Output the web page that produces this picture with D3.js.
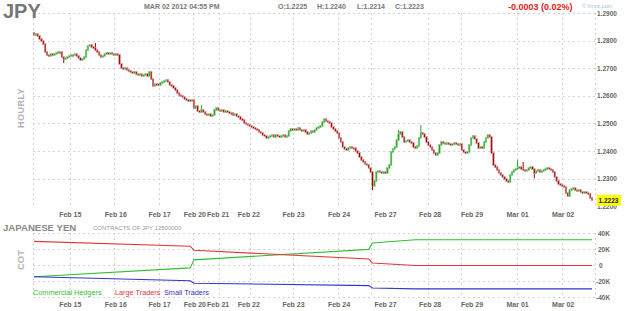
<!DOCTYPE html>
<meta charset="utf-8">
<style>
body { margin: 0; background: #fff; }
svg text { font-family: "Liberation Sans", Arial, sans-serif; }
.grid line { stroke: #d2d2d2; stroke-dasharray: 2,3; shape-rendering: crispEdges; }
.xlab { font-size: 7px; font-weight: bold; fill: #666; text-anchor: middle; }
.ylab { font-size: 6.5px; font-weight: bold; fill: #666; }
.hdr { font-size: 7px; font-weight: bold; fill: #777; }
</style>
<body>
<svg width="625" height="311"></svg>
<script src="https://cdn.jsdelivr.net/npm/d3@7"></script>
<script>

// day labels and where they sit, in hourly candle index
var dayLabels = ["Feb 15","Feb 16","Feb 17","Feb 20","Feb 21","Feb 22","Feb 23","Feb 24","Feb 27","Feb 28","Feb 29","Mar 01","Mar 02"];
var labelIdx  = [19.5, 44, 67.5, 86.5, 99, 115.5, 139.5, 164, 189, 213, 235.5, 260, 284.5];
var gridIdx   = [19.5, 43.5, 67.5, 85.5, 99.5, 116.5, 139.5, 163.5, 181.5, 212, 230, 260, 284];

// hourly closes (open = previous close)
var firstOpen = 1.2830;
var closes = [
  1.2822,1.2825,1.2818,1.2807,1.2800,1.2789,1.2760,1.2749,1.2746,1.2753,
  1.2749,1.2753,1.2757,1.2760,1.2760,1.2742,1.2735,1.2738,1.2742,1.2746,
  1.2749,1.2749,1.2753,1.2746,1.2738,1.2731,1.2735,1.2742,1.2767,1.2782,
  1.2786,1.2778,1.2775,1.2767,1.2760,1.2749,1.2742,1.2746,1.2753,1.2757,
  1.2753,1.2757,1.2753,1.2749,1.2753,1.2749,1.2717,1.2702,1.2699,1.2702,
  1.2695,1.2691,1.2688,1.2684,1.2688,1.2680,1.2677,1.2680,1.2673,1.2677,
  1.2680,1.2673,1.2688,1.2662,1.2637,1.2644,1.2644,1.2641,1.2648,1.2651,
  1.2655,1.2659,1.2651,1.2641,1.2637,1.2630,1.2622,1.2612,1.2604,1.2601,
  1.2597,1.2590,1.2586,1.2586,1.2583,1.2586,1.2557,1.2564,1.2546,1.2543,
  1.2550,1.2543,1.2535,1.2532,1.2535,1.2528,1.2532,1.2550,1.2557,1.2550,
  1.2546,1.2550,1.2543,1.2546,1.2543,1.2539,1.2539,1.2532,1.2535,1.2528,
  1.2525,1.2517,1.2514,1.2503,1.2499,1.2496,1.2492,1.2488,1.2485,1.2481,
  1.2478,1.2470,1.2467,1.2459,1.2456,1.2449,1.2452,1.2456,1.2459,1.2452,
  1.2459,1.2456,1.2452,1.2456,1.2459,1.2452,1.2456,1.2474,1.2481,1.2478,
  1.2481,1.2478,1.2485,1.2478,1.2474,1.2478,1.2470,1.2463,1.2467,1.2474,
  1.2470,1.2478,1.2485,1.2488,1.2492,1.2507,1.2517,1.2510,1.2507,1.2503,
  1.2488,1.2481,1.2474,1.2467,1.2449,1.2434,1.2416,1.2409,1.2405,1.2412,
  1.2416,1.2412,1.2412,1.2401,1.2394,1.2380,1.2369,1.2362,1.2354,1.2351,
  1.2340,1.2325,1.2275,1.2293,1.2325,1.2329,1.2325,1.2322,1.2325,1.2322,
  1.2340,1.2351,1.2398,1.2409,1.2416,1.2441,1.2463,1.2470,1.2452,1.2434,
  1.2438,1.2441,1.2434,1.2430,1.2416,1.2412,1.2420,1.2449,1.2467,1.2463,
  1.2452,1.2434,1.2423,1.2416,1.2405,1.2394,1.2387,1.2394,1.2423,1.2434,
  1.2430,1.2427,1.2430,1.2427,1.2423,1.2427,1.2430,1.2427,1.2423,1.2427,
  1.2405,1.2398,1.2394,1.2398,1.2423,1.2449,1.2456,1.2445,1.2430,1.2412,
  1.2416,1.2412,1.2434,1.2449,1.2459,1.2452,1.2394,1.2351,1.2343,1.2333,
  1.2322,1.2314,1.2307,1.2300,1.2293,1.2289,1.2314,1.2325,1.2333,1.2336,
  1.2340,1.2343,1.2336,1.2333,1.2329,1.2333,1.2340,1.2343,1.2336,1.2322,
  1.2329,1.2333,1.2325,1.2329,1.2333,1.2336,1.2340,1.2336,1.2333,1.2325,
  1.2307,1.2293,1.2282,1.2278,1.2275,1.2271,1.2249,1.2238,1.2260,1.2264,
  1.2267,1.2260,1.2257,1.2260,1.2253,1.2249,1.2253,1.2249,1.2246,1.2231,
  1.2223
];
// visible wicks: [candle index, price]
var wickHigh = [[33,1.2793],[90,1.2568],[196,1.2478],[208,1.2496],[260,1.2369],[263,1.2362]];
var wickLow  = [[16,1.2720],[182,1.2260],[269,1.2303]];

var priceTicks = [1.29,1.28,1.27,1.26,1.25,1.24,1.23,1.22];
var lastPrice = 1.2223;

// COT net positions, thousands of contracts, at candle index
var cotIdx     = [0, 84, 86, 180, 182, 205, 300];
var commercial = [-14, -3, 7, 20, 28, 32, 32];
var large      = [30, 24, 19, 8, 3, 0, 0];
var small      = [-14, -19, -22, -25, -28, -29, -29];
var cotTicks   = [40, 20, 0, -20, -40];

var svg = d3.select("svg");
var left = 33, right = 595;
var mainTop = 13.4, mainBot = 206.6, cotTop = 233.3, cotBot = 297.7;

var x = d3.scaleLinear().domain([0, closes.length - 1]).range([34, 592]);
var y = d3.scaleLinear().domain([1.22, 1.29]).range([mainBot, mainTop]);
var cy = d3.scaleLinear().domain([-40, 40]).range([cotBot, cotTop]);

// grids
function grid(top, bot, hvals, hscale) {
  var g = svg.append("g").attr("class", "grid");
  g.selectAll(".v").data(gridIdx.concat([null])).enter().append("line")
    .attr("x1", function(d) { return d == null ? left : x(d); })
    .attr("x2", function(d) { return d == null ? left : x(d); })
    .attr("y1", top).attr("y2", bot);
  g.append("line").attr("x1", right).attr("x2", right).attr("y1", top).attr("y2", bot);
  g.selectAll(".h").data(hvals).enter().append("line")
    .attr("x1", left).attr("x2", right)
    .attr("y1", function(d) { return hscale(d); })
    .attr("y2", function(d) { return hscale(d); });
}
grid(mainTop, mainBot, priceTicks.filter(function(d) { return d > 1.225; }), y);
grid(cotTop, cotBot, cotTicks, cy);

// price labels
svg.append("g").selectAll("text").data(priceTicks).enter().append("text")
  .attr("class", "ylab").attr("x", 597).attr("y", function(d) { return y(d); })
  .attr("dy", "0.35em").text(function(d) { return d3.format(".4f")(d); });

// candles
function openOf(i) { return i ? closes[i - 1] : firstOpen; }
var bw = 1.6;
var candles = svg.append("g");
candles.selectAll("line").data(wickHigh.concat(wickLow)).enter().append("line")
  .attr("x1", function(d) { return x(d[0]); })
  .attr("x2", function(d) { return x(d[0]); })
  .attr("y1", function(d) { return y(d[1]); })
  .attr("y2", function(d) { return y((openOf(d[0]) + closes[d[0]]) / 2); })
  .attr("stroke", function(d) { return closes[d[0]] > openOf(d[0]) ? "#2aa52a" : "#a80000"; })
  .attr("stroke-width", 1);

candles.selectAll("rect").data(closes).enter().append("rect")
  .attr("x", function(d, i) { return x(i) - bw / 2; })
  .attr("width", bw)
  .attr("y", function(d, i) { return y(Math.max(openOf(i), d)) - 0.5; })
  .attr("height", function(d, i) { return Math.max(1, Math.abs(y(openOf(i)) - y(d))) + 1; })
  .attr("fill", function(d, i) { return d > openOf(i) ? "#1f9f1f" : "#a00000"; })
  .attr("stroke", function(d, i) { return d > openOf(i) ? "#8fd08f" : "#dca0a0"; })
  .attr("stroke-width", 0.6);

// last price tag
svg.append("rect").attr("x", 597).attr("y", y(lastPrice) - 5.5).attr("width", 24).attr("height", 11).attr("fill", "#ffff00");
svg.append("text").attr("class", "ylab").attr("x", 598.5).attr("y", y(lastPrice)).attr("dy", "0.35em")
  .style("fill", "#222").text(d3.format(".4f")(lastPrice));

// x labels
[216.5, 306.5].forEach(function(yy) {
  svg.append("g").selectAll("text").data(dayLabels).enter().append("text")
    .attr("class", "xlab").attr("x", function(d, i) { return x(labelIdx[i]); }).attr("y", yy)
    .text(function(d) { return d; });
});

// COT lines
var series = [
  {name: "Commercial Hedgers", vals: commercial, color: "#33c033"},
  {name: "Large Traders", vals: large, color: "#dd3a3a"},
  {name: "Small Traders", vals: small, color: "#3434c8"}
];
var line = d3.line().x(function(d, i) { return x(cotIdx[i]); }).y(function(d) { return cy(d); });
series.forEach(function(s) {
  svg.append("path").attr("d", line(s.vals)).attr("fill", "none")
    .attr("stroke", s.color).attr("stroke-width", 1.1);
});
svg.append("g").selectAll("text").data(cotTicks).enter().append("text")
  .attr("class", "ylab").attr("x", function(d) { return d < 0 ? 596 : (d == 0 ? 599 : 598); })
  .attr("y", function(d) { return cy(d); }).attr("dy", "0.35em")
  .text(function(d) { return d == 0 ? "0" : d + "K"; });

// legend
var lx = [33, 115, 164];
series.forEach(function(s, i) {
  svg.append("text").attr("x", lx[i]).attr("y", 295.3).attr("font-size", 7.3)
    .attr("fill", s.color).text(s.name);
});

// headers and side titles
svg.append("text").attr("x", 3).attr("y", 18.3).attr("font-size", 20).attr("font-weight", "bold")
  .attr("fill", "#777").text("JPY");
svg.append("text").attr("class", "hdr").attr("x", 144).attr("y", 9.3).text("MAR 02 2012 04:55 PM");
[["O:1.2225", 278], ["H:1.2240", 317], ["L:1.2214", 357], ["C:1.2223", 395]].forEach(function(h) {
  svg.append("text").attr("class", "hdr").attr("x", h[1]).attr("y", 9.3).text(h[0]);
});
svg.append("text").attr("x", 508).attr("y", 9.8).attr("font-size", 9).attr("font-weight", "bold")
  .attr("fill", "#e02020").text("-0.0003 (0.02%)");
svg.append("text").attr("x", 582).attr("y", 7.5).attr("font-size", 5.5).attr("fill", "#9cc0e0").text("\u00a9 finviz.com");

svg.append("text").attr("x", 3).attr("y", 230.5).attr("font-size", 9.6).attr("font-weight", "bold")
  .attr("fill", "#888").text("JAPANESE YEN");
svg.append("text").attr("x", 93).attr("y", 230).attr("font-size", 6).attr("fill", "#999")
  .text("CONTRACTS OF JPY 12500000");

svg.append("text").attr("transform", "translate(23.5,108) rotate(-90)").attr("text-anchor", "middle")
  .attr("font-size", 9).attr("font-weight", "bold").attr("fill", "#b4b4b4").attr("letter-spacing", 0.5).text("HOURLY");
svg.append("text").attr("transform", "translate(23.5,260) rotate(-90)").attr("text-anchor", "middle")
  .attr("font-size", 9.5).attr("font-weight", "bold").attr("fill", "#b4b4b4").text("COT");

</script>
</body>
